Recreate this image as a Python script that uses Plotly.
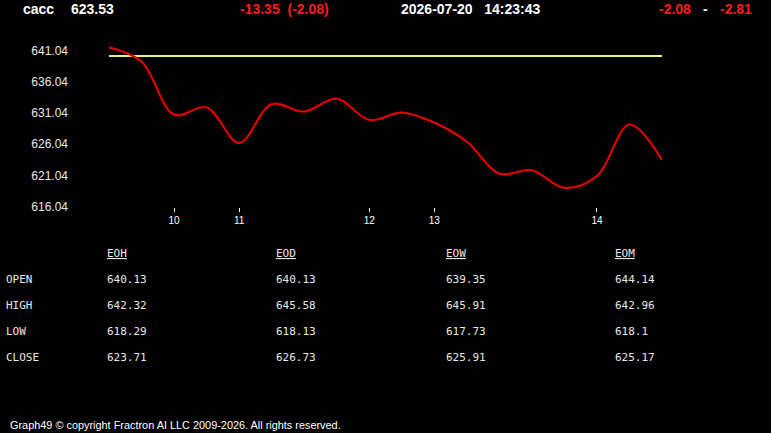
import plotly.graph_objects as go

# ---- data ----
symbol = "cacc"
last_price = "623.53"
change_text = "-13.35  (-2.08)"
timestamp = "2026-07-20   14:23:43"
range_low = "-2.08"
range_high = "-2.81"

idx = list(range(18))
prices = [641.52, 639.23, 630.77, 631.93, 626.25, 632.45, 631.25, 633.32, 629.92,
          631.09, 629.49, 626.46, 621.34, 621.87, 619.06, 620.94, 629.17, 623.53]
ref_level = 640.13

x_tick_pos = [2, 4, 8, 10, 15]
x_tick_labels = ["10", "11", "12", "13", "14"]
y_ticks = [616.04, 621.04, 626.04, 631.04, 636.04, 641.04]

table_cols = ["EOH", "EOD", "EOW", "EOM"]
table_rows = ["OPEN", "HIGH", "LOW", "CLOSE"]
table_vals = [
    ["640.13", "640.13", "639.35", "644.14"],
    ["642.32", "645.58", "645.91", "642.96"],
    ["618.29", "618.13", "617.73", "618.1"],
    ["623.71", "626.73", "625.91", "625.17"],
]
footer = "Graph49 \u00a9 copyright Fractron AI LLC 2009-2026. All rights reserved."

# ---- layout geometry ----
W, H = 771, 433
L, R, T, B = 109, 109, 40, 226
PW, PH = W - L - R, H - T - B


def px(xp):
    return (xp - L) / PW


def py(yp):
    return (H - B - yp) / PH


fig = go.Figure()
fig.add_trace(go.Scatter(x=[idx[0], idx[-1]], y=[ref_level, ref_level], mode="lines",
                         line=dict(color="#e8f07c", width=2), hoverinfo="skip"))
fig.add_trace(go.Scatter(x=idx, y=prices, mode="lines",
                         line=dict(color="#e00000", width=2.2, shape="spline"),
                         hoverinfo="skip"))

ann = []
hdr_font = dict(family="Liberation Sans, Arial", size=14, color="white")
red_font = dict(family="Liberation Sans, Arial", size=14, color="#ff1a1a")


def add(text, x, y, font, xanchor="left"):
    ann.append(dict(text=text, x=px(x), y=py(y), xref="paper", yref="paper",
                    showarrow=False, xanchor=xanchor, yanchor="middle", font=font,
                    borderpad=0, borderwidth=0))


add("<b>%s</b>" % symbol, 23, 9, hdr_font)
add("<b>%s</b>" % last_price, 71, 9, hdr_font)
add("<b>%s</b>" % change_text.replace(" ", "&nbsp;"), 240, 9, red_font)
add("<b>%s</b>" % timestamp.replace(" ", "&nbsp;"), 401, 9, hdr_font)
add("<b>%s</b>" % range_low, 659, 9, red_font)
add("<b>-</b>", 703, 9, hdr_font)
add("<b>%s</b>" % range_high, 720, 9, red_font)

mono = dict(family="DejaVu Sans Mono", size=11, color="#e8e8e8")
col_x = [107, 276, 446, 615]
row_y = [279, 305, 331, 357]
for c, name in enumerate(table_cols):
    add("<u>%s</u>" % name, col_x[c], 253, mono)
for r, name in enumerate(table_rows):
    add(name, 6, row_y[r], mono)
    for c in range(len(table_cols)):
        add(table_vals[r][c], col_x[c], row_y[r], mono)

add(footer, 10, 425, dict(family="Liberation Sans, Arial", size=10.9, color="white"))

fig.update_layout(
    width=W, height=H,
    margin=dict(l=L, r=R, t=T, b=B, pad=0),
    paper_bgcolor="black", plot_bgcolor="black",
    showlegend=False,
    annotations=ann,
    xaxis=dict(range=[0, 17], tickvals=x_tick_pos, ticktext=x_tick_labels,
               showgrid=False, zeroline=False, showline=False,
               ticks="outside", ticklen=4, tickcolor="white", tickwidth=1,
               tickfont=dict(family="Liberation Sans, Arial", size=10, color="white")),
    yaxis=dict(range=[616.0, 642.7], tickvals=y_ticks,
               ticktext=["%.2f" % v for v in y_ticks],
               showgrid=False, zeroline=False, showline=False,
               ticklabelstandoff=40,
               tickfont=dict(family="Liberation Sans, Arial", size=12, color="#e8e8e8")),
)

fig.write_html("out.html")
